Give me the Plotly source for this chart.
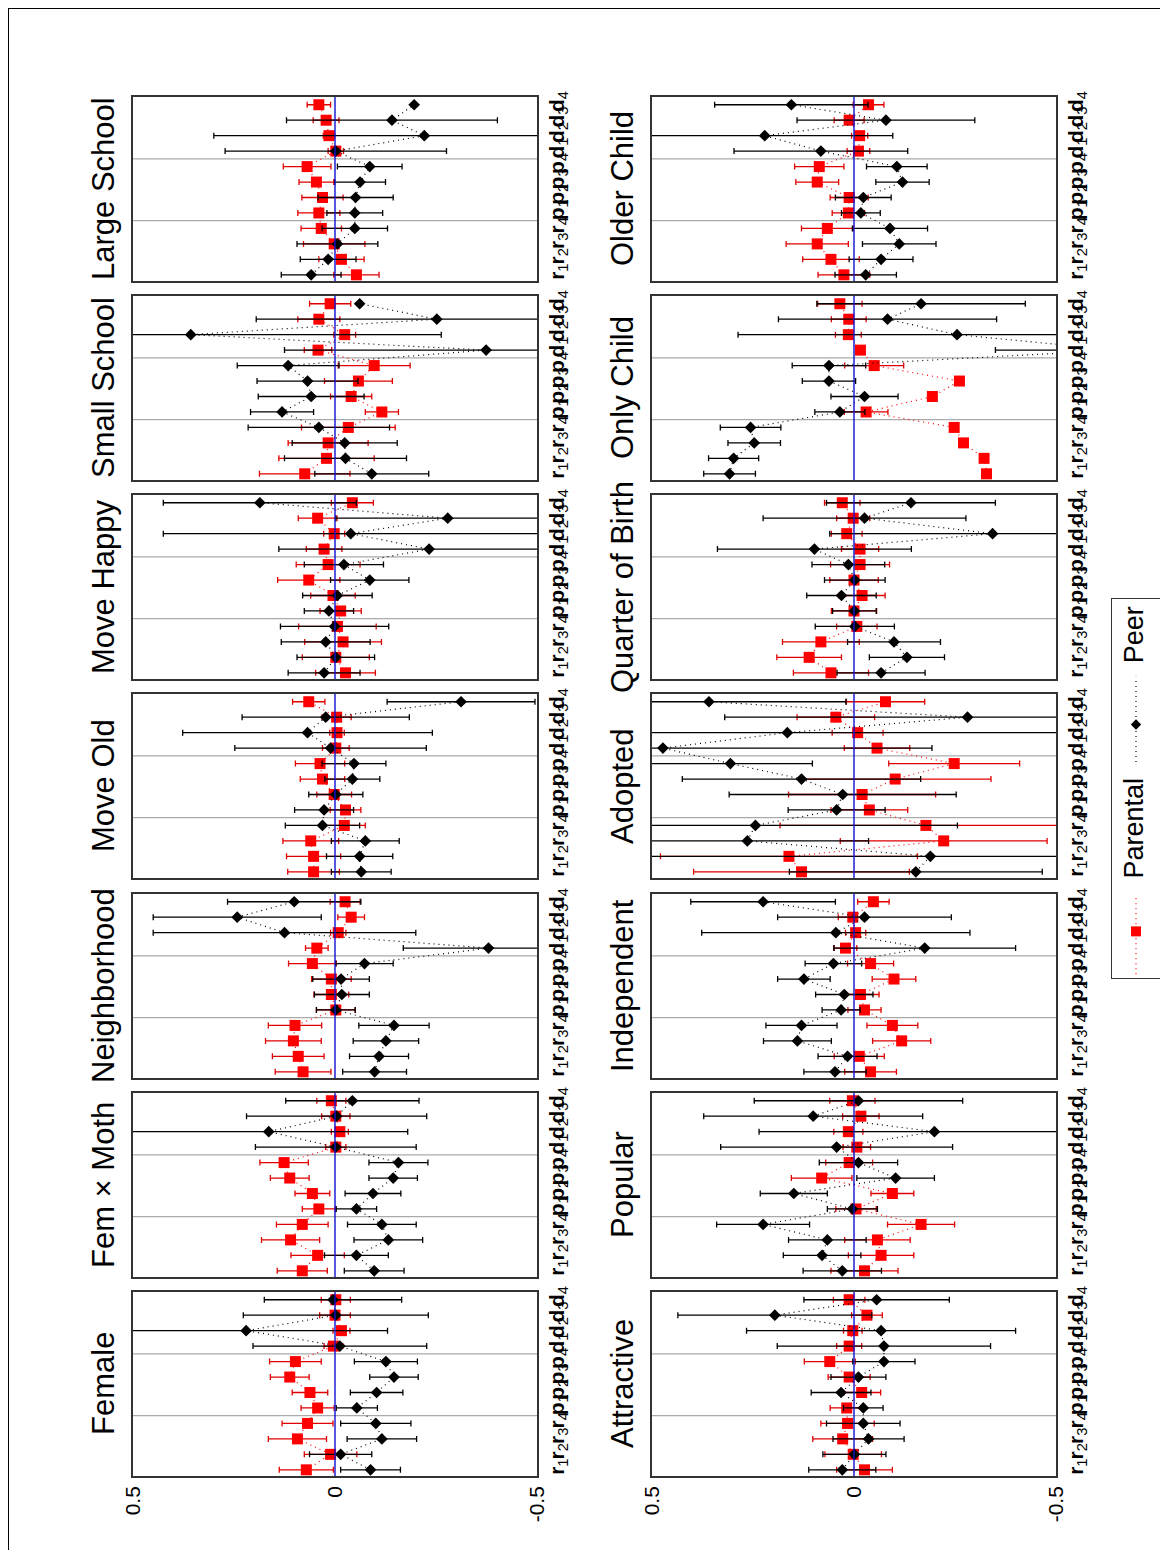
import plotly.graph_objects as go

# reference page is 1168 x 1558; the browser body adds an 8px margin
PAGE_W, PAGE_H = 1168, 1558
OFF = 8
W, H = PAGE_W - 2 * OFF, PAGE_H - 2 * OFF

categories = ['r1', 'r2', 'r3', 'r4', 'p1', 'p2', 'p3', 'p4', 'd1', 'd2', 'd3', 'd4']
cat_labels = ['<b>r</b><sub>1</sub>', '<b>r</b><sub>2</sub>', '<b>r</b><sub>3</sub>', '<b>r</b><sub>4</sub>',
              '<b>p</b><sub>1</sub>', '<b>p</b><sub>2</sub>', '<b>p</b><sub>3</sub>', '<b>p</b><sub>4</sub>',
              '<b>d</b><sub>1</sub>', '<b>d</b><sub>2</sub>', '<b>d</b><sub>3</sub>', '<b>d</b><sub>4</sub>']
value_ticks = [0.5, 0, -0.5]
value_tick_text = ['0.5', '0', '-0.5']

# estimates and half-width of the 95% bands, order r1..r4, p1..p4, d1..d4
large_par = [-0.053, -0.016, 0.002, 0.034, 0.040, 0.031, 0.046, 0.069, -0.002, 0.015, 0.022, 0.040]
large_par_ci = [0.056, 0.056, 0.076, 0.050, 0.052, 0.051, 0.043, 0.059, 0.019, 0.014, 0.032, 0.029]
large_peer = [0.059, 0.017, -0.006, -0.049, -0.049, -0.051, -0.062, -0.086, -0.002, -0.221, -0.141, -0.196]
large_peer_ci = [0.074, 0.069, 0.100, 0.081, 0.069, 0.093, 0.063, 0.080, 0.274, 0.521, 0.261, 0.0]

small_par = [0.075, 0.021, 0.017, -0.033, -0.116, -0.040, -0.058, -0.097, 0.042, -0.024, 0.040, 0.012]
small_par_ci = [0.112, 0.118, 0.099, 0.116, 0.041, 0.051, 0.084, 0.089, 0.034, 0.027, 0.052, 0.051]
small_peer = [-0.091, -0.026, -0.024, 0.040, 0.131, 0.059, 0.068, 0.116, -0.374, 0.357, -0.252, -0.061]
small_peer_ci = [0.141, 0.151, 0.130, 0.175, 0.078, 0.131, 0.125, 0.126, 0.499, 0.62, 0.447, 0.0]

happy_par = [-0.026, -0.002, -0.020, -0.006, -0.014, 0.005, 0.065, 0.017, 0.027, 0.002, 0.043, -0.043]
happy_par_ci = [0.074, 0.083, 0.095, 0.096, 0.051, 0.055, 0.077, 0.079, 0.044, 0.026, 0.048, 0.052]
happy_peer = [0.027, -0.002, 0.023, 0.001, 0.015, -0.006, -0.086, -0.022, -0.233, -0.039, -0.279, 0.186]
happy_peer_ci = [0.089, 0.096, 0.110, 0.134, 0.061, 0.086, 0.097, 0.098, 0.372, 0.464, 0.277, 0.239]

old_par = [0.053, 0.053, 0.060, -0.023, -0.026, 0.002, 0.031, 0.037, -0.002, -0.005, -0.004, 0.065]
old_par_ci = [0.064, 0.067, 0.069, 0.052, 0.038, 0.043, 0.055, 0.061, 0.033, 0.018, 0.036, 0.040]
old_peer = [-0.065, -0.061, -0.075, 0.031, 0.027, -0.002, -0.043, -0.047, 0.011, 0.068, 0.023, -0.312]
old_peer_ci = [0.074, 0.082, 0.084, 0.092, 0.073, 0.067, 0.068, 0.079, 0.237, 0.309, 0.207, 0.183]

nbhd_par = [0.079, 0.091, 0.103, 0.099, -0.002, 0.009, 0.009, 0.056, 0.045, -0.008, -0.040, -0.025]
nbhd_par_ci = [0.069, 0.064, 0.069, 0.066, 0.048, 0.043, 0.049, 0.059, 0.028, 0.019, 0.033, 0.037]
nbhd_peer = [-0.098, -0.109, -0.126, -0.146, -0.002, -0.017, -0.015, -0.073, -0.380, 0.125, 0.242, 0.101]
nbhd_peer_ci = [0.079, 0.073, 0.081, 0.087, 0.048, 0.068, 0.070, 0.071, 0.211, 0.325, 0.208, 0.165]

femmoth_par = [0.081, 0.043, 0.110, 0.081, 0.040, 0.056, 0.112, 0.126, -0.002, -0.012, -0.002, 0.009]
femmoth_par_ci = [0.062, 0.066, 0.072, 0.064, 0.041, 0.043, 0.048, 0.060, 0.025, 0.021, 0.035, 0.036]
femmoth_peer = [-0.097, -0.053, -0.132, -0.116, -0.053, -0.094, -0.144, -0.157, -0.002, 0.164, -0.004, -0.043]
femmoth_peer_ci = [0.074, 0.079, 0.085, 0.085, 0.050, 0.069, 0.060, 0.073, 0.199, 0.344, 0.223, 0.165]

female_par = [0.071, 0.011, 0.093, 0.068, 0.043, 0.062, 0.112, 0.098, 0.004, -0.016, 0.0, -0.002]
female_par_ci = [0.067, 0.065, 0.072, 0.063, 0.041, 0.044, 0.048, 0.064, 0.023, 0.021, 0.038, 0.036]
female_peer = [-0.088, -0.014, -0.116, -0.101, -0.054, -0.103, -0.146, -0.126, -0.012, 0.220, -0.002, 0.005]
female_peer_ci = [0.074, 0.077, 0.086, 0.087, 0.051, 0.065, 0.060, 0.078, 0.215, 0.350, 0.229, 0.170]

older_par = [0.025, 0.057, 0.091, 0.066, 0.014, 0.012, 0.091, 0.086, -0.011, -0.014, 0.012, -0.036]
older_par_ci = [0.064, 0.070, 0.077, 0.064, 0.040, 0.047, 0.053, 0.061, 0.028, 0.020, 0.037, 0.038]
older_peer = [-0.029, -0.067, -0.112, -0.089, -0.017, -0.023, -0.120, -0.106, 0.082, 0.221, -0.079, 0.155]
older_peer_ci = [0.076, 0.079, 0.091, 0.093, 0.048, 0.069, 0.066, 0.075, 0.215, 0.317, 0.220, 0.190]

only_par = [-0.328, -0.322, -0.271, -0.248, -0.030, -0.194, -0.261, -0.050, -0.016, 0.014, 0.013, 0.035]
only_par_ci = [0.004, 0.004, 0.004, 0.004, 0.054, 0.004, 0.004, 0.073, 0.004, 0.032, 0.043, 0.055]
only_peer = [0.308, 0.298, 0.247, 0.256, 0.035, -0.026, 0.062, 0.062, -0.65, -0.255, -0.083, -0.166]
only_peer_ci = [0.064, 0.062, 0.065, 0.075, 0.062, 0.083, 0.066, 0.091, 0.3, 0.542, 0.270, 0.258]

quarter_par = [0.057, 0.111, 0.082, -0.007, 0.0, -0.020, 0.0, -0.015, -0.015, 0.018, 0.002, 0.029]
quarter_par_ci = [0.093, 0.080, 0.095, 0.05, 0.056, 0.057, 0.06, 0.073, 0.046, 0.038, 0.041, 0.044]
quarter_peer = [-0.067, -0.131, -0.099, -0.002, -0.001, 0.031, -0.002, 0.014, 0.098, -0.343, -0.026, -0.141]
quarter_peer_ci = [0.109, 0.093, 0.115, 0.098, 0.054, 0.086, 0.075, 0.090, 0.240, 0.403, 0.251, 0.209]

adopted_par = [0.130, 0.161, -0.222, -0.178, -0.038, -0.020, -0.102, -0.248, -0.057, -0.009, 0.045, -0.078]
adopted_par_ci = [0.267, 0.318, 0.256, 0.361, 0.095, 0.182, 0.237, 0.162, 0.081, 0.063, 0.096, 0.097]
adopted_peer = [-0.153, -0.189, 0.264, 0.244, 0.043, 0.028, 0.130, 0.306, 0.473, 0.165, -0.281, 0.359]
adopted_peer_ci = [0.313, 0.72, 0.30, 0.50, 0.120, 0.281, 0.295, 0.203, 0.666, 0.70, 0.601, 0.339]

indep_par = [-0.041, -0.013, -0.118, -0.095, -0.026, -0.016, -0.099, -0.041, 0.021, -0.004, 0.003, -0.048]
indep_par_ci = [0.064, 0.062, 0.072, 0.063, 0.041, 0.046, 0.054, 0.057, 0.028, 0.025, 0.036, 0.039]
indep_peer = [0.047, 0.016, 0.140, 0.130, 0.032, 0.024, 0.124, 0.051, -0.175, 0.045, -0.026, 0.225]
indep_peer_ci = [0.077, 0.073, 0.084, 0.088, 0.047, 0.071, 0.065, 0.070, 0.225, 0.332, 0.215, 0.179]

popular_par = [-0.026, -0.067, -0.058, -0.166, -0.005, -0.095, 0.080, 0.012, -0.007, 0.014, -0.017, 0.004]
popular_par_ci = [0.083, 0.081, 0.081, 0.083, 0.05, 0.053, 0.075, 0.058, 0.034, 0.036, 0.045, 0.056]
popular_peer = [0.029, 0.079, 0.066, 0.225, 0.004, 0.149, -0.103, -0.011, 0.043, -0.199, 0.101, -0.011]
popular_peer_ci = [0.097, 0.096, 0.096, 0.115, 0.062, 0.083, 0.096, 0.097, 0.287, 0.434, 0.271, 0.258]

attract_par = [-0.026, 0.002, 0.028, 0.016, 0.018, -0.019, 0.012, 0.060, 0.012, 0.003, -0.032, 0.012]
attract_par_ci = [0.069, 0.070, 0.074, 0.066, 0.041, 0.047, 0.052, 0.063, 0.031, 0.023, 0.038, 0.039]
attract_peer = [0.029, -0.001, -0.036, -0.023, -0.023, 0.032, -0.011, -0.074, -0.074, -0.067, 0.196, -0.056]
attract_peer_ci = [0.083, 0.078, 0.088, 0.091, 0.049, 0.074, 0.068, 0.077, 0.264, 0.333, 0.240, 0.180]

# (title, column, row, parental, parental ci, peer, peer ci)
panels = [
    ('Large School', 0, 0, large_par, large_par_ci, large_peer, large_peer_ci),
    ('Small School', 0, 1, small_par, small_par_ci, small_peer, small_peer_ci),
    ('Move Happy', 0, 2, happy_par, happy_par_ci, happy_peer, happy_peer_ci),
    ('Move Old', 0, 3, old_par, old_par_ci, old_peer, old_peer_ci),
    ('Neighborhood', 0, 4, nbhd_par, nbhd_par_ci, nbhd_peer, nbhd_peer_ci),
    ('Fem \u00d7 Moth', 0, 5, femmoth_par, femmoth_par_ci, femmoth_peer, femmoth_peer_ci),
    ('Female', 0, 6, female_par, female_par_ci, female_peer, female_peer_ci),
    ('Older Child', 1, 0, older_par, older_par_ci, older_peer, older_peer_ci),
    ('Only Child', 1, 1, only_par, only_par_ci, only_peer, only_peer_ci),
    ('Quarter of Birth', 1, 2, quarter_par, quarter_par_ci, quarter_peer, quarter_peer_ci),
    ('Adopted', 1, 3, adopted_par, adopted_par_ci, adopted_peer, adopted_peer_ci),
    ('Independent', 1, 4, indep_par, indep_par_ci, indep_peer, indep_peer_ci),
    ('Popular', 1, 5, popular_par, popular_par_ci, popular_peer, popular_peer_ci),
    ('Attractive', 1, 6, attract_par, attract_par_ci, attract_peer, attract_peer_ci),
]

col_left = [133, 652]
col_width = 404
row_top = [97, 296, 495, 694, 894, 1093, 1292]
row_height = 184
FONT = 'Arial, Liberation Sans, sans-serif'
DOTS = '1px,4px'


def px_x(x):
    return min(max((x - OFF) / W, 0), 1)


def px_y(y):
    return min(max(1 - (y - OFF) / H, 0), 1)


fig = go.Figure()
layout = {}
shapes = []
annotations = []

for i, (title, col, row, par, par_ci, peer, peer_ci) in enumerate(panels):
    n = '' if i == 0 else str(i + 1)
    xa, ya = 'x' + n, 'y' + n
    x0 = px_x(col_left[col])
    x1 = px_x(col_left[col] + col_width)
    y1 = px_y(row_top[row])
    y0 = px_y(row_top[row] + row_height)

    fig.add_trace(go.Scatter(
        x=par, y=categories, xaxis=xa, yaxis=ya, mode='lines+markers',
        line=dict(color='red', width=1.2, dash=DOTS),
        marker=dict(symbol='square', size=11, color='red'),
        error_x=dict(type='data', array=par_ci, color='#e00000', thickness=1.3, width=3),
        showlegend=False))
    fig.add_trace(go.Scatter(
        x=peer, y=categories, xaxis=xa, yaxis=ya, mode='lines+markers',
        line=dict(color='black', width=1.2, dash=DOTS),
        marker=dict(symbol='diamond', size=9, color='black'),
        error_x=dict(type='data', array=peer_ci, color='black', thickness=1.3, width=3),
        showlegend=False))

    layout['xaxis' + n] = dict(
        domain=[x0, x1], anchor=ya, range=[0.5, -0.5], showgrid=False, zeroline=False,
        automargin=False, showline=True, mirror=True, linecolor='#333', linewidth=1.5,
        ticks='', tickmode='array', tickvals=value_ticks, ticktext=value_tick_text,
        showticklabels=(row == 6), tickangle=-90,
        tickfont=dict(family=FONT, size=21, color='black'))
    layout['yaxis' + n] = dict(
        domain=[y0, y1], anchor=xa, side='right', type='category',
        categoryorder='array', categoryarray=categories, range=[-0.4, 11.5],
        automargin=False, showgrid=False, zeroline=False, showline=True, mirror=True,
        linecolor='#333', linewidth=1.5, ticks='', tickmode='array',
        tickvals=categories, ticktext=cat_labels, tickangle=-90,
        tickfont=dict(family=FONT, size=21, color='black'))

    for gy in (3.5, 7.5):
        shapes.append(dict(type='line', xref=xa + ' domain', yref=ya, x0=0, x1=1,
                           y0=gy, y1=gy, line=dict(color='#aaaaaa', width=1.2), layer='below'))
    shapes.append(dict(type='line', xref=xa, yref=ya + ' domain', x0=0, x1=0, y0=0, y1=1,
                       line=dict(color='#1010d0', width=1.4), layer='above'))

    annotations.append(dict(text=title, xref='paper', yref='paper',
                            x=px_x(col_left[col] - 30), y=(y0 + y1) / 2,
                            textangle=-90, showarrow=False, xanchor='center', yanchor='middle',
                            font=dict(family=FONT, size=31, color='black')))

# legend drawn by hand, rotated like the rest of the page
layout['xaxis15'] = dict(domain=[px_x(1112), px_x(1160)], anchor='y15', range=[0, 1],
                         automargin=False, showgrid=False, zeroline=False, showline=True,
                         mirror=True, linecolor='#333', linewidth=1.2,
                         showticklabels=False, ticks='')
layout['yaxis15'] = dict(domain=[px_y(978), px_y(599)], anchor='x15', range=[0, 1],
                         automargin=False, showgrid=False, zeroline=False, showline=True,
                         mirror=True, linecolor='#333', linewidth=1.2,
                         showticklabels=False, ticks='')
fig.add_trace(go.Scatter(x=[0.5, 0.5], y=[0.01, 0.22], xaxis='x15', yaxis='y15', mode='lines',
                         line=dict(color='red', width=1.2, dash=DOTS), showlegend=False))
fig.add_trace(go.Scatter(x=[0.5], y=[0.123], xaxis='x15', yaxis='y15', mode='markers',
                         marker=dict(symbol='square', size=10, color='red'), showlegend=False))
fig.add_trace(go.Scatter(x=[0.5, 0.5], y=[0.57, 0.795], xaxis='x15', yaxis='y15', mode='lines',
                         line=dict(color='black', width=1.2, dash=DOTS), showlegend=False))
fig.add_trace(go.Scatter(x=[0.5], y=[0.669], xaxis='x15', yaxis='y15', mode='markers',
                         marker=dict(symbol='diamond', size=8, color='black'), showlegend=False))
annotations.append(dict(text='Parental', xref='x15', yref='y15', x=0.45, y=0.396, textangle=-90,
                        showarrow=False, font=dict(family=FONT, size=27, color='black')))
annotations.append(dict(text='Peer', xref='x15', yref='y15', x=0.45, y=0.906, textangle=-90,
                        showarrow=False, font=dict(family=FONT, size=27, color='black')))

# page frame: top and left edges
shapes.append(dict(type='line', xref='paper', yref='paper', x0=px_x(8), x1=1,
                   y0=px_y(8.5), y1=px_y(8.5), line=dict(color='black', width=1)))
shapes.append(dict(type='line', xref='paper', yref='paper', x0=px_x(8.5), x1=px_x(8.5),
                   y0=0, y1=px_y(8), line=dict(color='black', width=1)))

fig.update_layout(template='none', width=W, height=H,
                  margin=dict(l=0, r=0, t=0, b=0, pad=0, autoexpand=False),
                  plot_bgcolor='white', paper_bgcolor='white', showlegend=False,
                  shapes=shapes, annotations=annotations, **layout)

fig.write_html("out.html")
